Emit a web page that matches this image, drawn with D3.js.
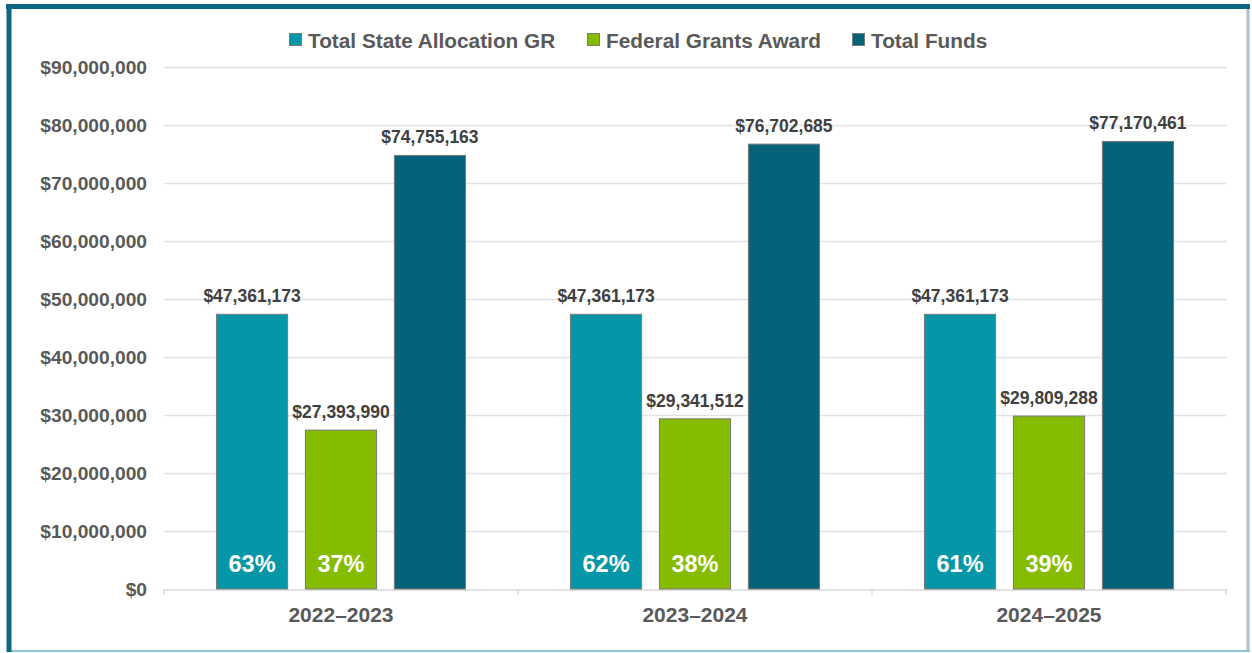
<!DOCTYPE html>
<html>
<head>
<meta charset="utf-8">
<script src="https://cdn.jsdelivr.net/npm/d3@7"></script>
<style>
  html, body { margin: 0; padding: 0; background: #ffffff; }
  svg { display: block; font-family: "Liberation Sans", Arial, sans-serif; }
</style>
</head>
<body>
<svg id="chart" width="1252" height="653"></svg>
<script>
const categories = ["2022\u20132023", "2023\u20132024", "2024\u20132025"];
const seriesNames = ["Total State Allocation GR", "Federal Grants Award", "Total Funds"];
const stateGR = [47361173, 47361173, 47361173];
const federal = [27393990, 29341512, 29809288];
const totalFunds = [74755163, 76702685, 77170461];
const statePct = ["63%", "62%", "61%"];
const federalPct = ["37%", "38%", "39%"];
const yTicks = [0, 10000000, 20000000, 30000000, 40000000, 50000000, 60000000, 70000000, 80000000, 90000000];
const colors = ["#0597a7", "#86bc00", "#04637b"];

const svg = d3.select("#chart");

// frame
svg.append("rect").attr("x", 0).attr("y", 0).attr("width", 1252).attr("height", 653).attr("fill", "#fff");
svg.append("line").attr("x1", 1248).attr("x2", 1248).attr("y1", 6).attr("y2", 652).attr("stroke", "#a9bfcc").attr("stroke-width", 3);
svg.append("line").attr("x1", 7).attr("x2", 1250).attr("y1", 651).attr("y2", 651).attr("stroke", "#8fc3d6").attr("stroke-width", 2);
svg.append("line").attr("x1", 6).attr("x2", 1250).attr("y1", 6.5).attr("y2", 6.5).attr("stroke", "#0b6680").attr("stroke-width", 5);
svg.append("line").attr("x1", 9).attr("x2", 9).attr("y1", 4).attr("y2", 652).attr("stroke", "#0b6680").attr("stroke-width", 5);

const y = d3.scaleLinear().domain([0, 90000000]).range([589, 67]);
const x0 = d3.scaleBand().domain(categories).range([164, 1226]).paddingInner(0).paddingOuter(0);
const x1 = d3.scaleBand().domain(seriesNames).range([0, x0.bandwidth()]).paddingInner(0.2).paddingOuter(0.59);

// gridlines
svg.append("g").selectAll("line").data(yTicks.filter(d => d > 0)).join("line")
  .attr("x1", 164).attr("x2", 1227)
  .attr("y1", d => Math.round(y(d)) + 0.5).attr("y2", d => Math.round(y(d)) + 0.5)
  .attr("stroke", "#e3e3e3").attr("stroke-width", 1.3);

// y tick labels
const fmt = d3.format("$,.0f");
svg.append("g").selectAll("text").data(yTicks).join("text")
  .attr("x", 147).attr("y", d => y(d) + 6.5)
  .attr("text-anchor", "end")
  .attr("font-size", 19.2).attr("font-weight", "bold").attr("fill", "#595959")
  .text(d => fmt(d));

// x axis line and ticks
const xAxis = d3.axisBottom(x0).tickSize(0).tickFormat("");
const xg = svg.append("g").attr("transform", "translate(0,589.5)").call(xAxis);
xg.select(".domain").attr("stroke", "#d9d9d9").attr("stroke-width", 1.3);
const bounds = [164, ...categories.map(c => x0(c) + x0.bandwidth())];
svg.append("g").selectAll("line").data(bounds).join("line")
  .attr("x1", d => d).attr("x2", d => d).attr("y1", 589).attr("y2", 595)
  .attr("stroke", "#d9d9d9").attr("stroke-width", 1.3);

// category labels
svg.append("g").selectAll("text").data(categories).join("text")
  .attr("x", d => x0(d) + x0.bandwidth() / 2).attr("y", 622)
  .attr("text-anchor", "middle")
  .attr("font-size", 21).attr("font-weight", "bold").attr("fill", "#595959")
  .text(d => d);

// bars
const rows = categories.map((c, i) => ({
  cat: c,
  vals: [
    { s: seriesNames[0], v: stateGR[i], pct: statePct[i], c: colors[0] },
    { s: seriesNames[1], v: federal[i], pct: federalPct[i], c: colors[1] },
    { s: seriesNames[2], v: totalFunds[i], pct: null, c: colors[2] }
  ]
}));

const groups = svg.append("g").selectAll("g").data(rows).join("g")
  .attr("transform", d => `translate(${x0(d.cat)},0)`);

groups.selectAll("rect").data(d => d.vals).join("rect")
  .attr("x", d => x1(d.s)).attr("width", x1.bandwidth())
  .attr("y", d => y(d.v)).attr("height", d => y(0) - y(d.v))
  .attr("fill", d => d.c).attr("stroke", "#7a7a7a").attr("stroke-width", 1);

groups.selectAll("text.val").data(d => d.vals).join("text")
  .attr("class", "val")
  .attr("x", d => x1(d.s) + x1.bandwidth() / 2).attr("y", d => y(d.v) - 12)
  .attr("text-anchor", "middle")
  .attr("font-size", 17.5).attr("font-weight", "bold").attr("fill", "#404040")
  .text(d => fmt(d.v));

groups.selectAll("text.pct").data(d => d.vals.filter(v => v.pct)).join("text")
  .attr("class", "pct")
  .attr("x", d => x1(d.s) + x1.bandwidth() / 2).attr("y", 572)
  .attr("text-anchor", "middle")
  .attr("font-size", 23.5).attr("font-weight", "bold").attr("fill", "#ffffff")
  .text(d => d.pct);

// legend
const legendX = [289, 587, 852];
const lg = svg.append("g").selectAll("g").data(seriesNames).join("g")
  .attr("transform", (d, i) => `translate(${legendX[i]},33)`);
lg.append("rect").attr("x", 0.5).attr("y", 0.5).attr("width", 12).attr("height", 12)
  .attr("fill", (d, i) => colors[i]).attr("stroke", "#7a7a7a").attr("stroke-width", 1);
lg.append("text").attr("x", 19).attr("y", 14.5)
  .attr("font-size", 20.8).attr("font-weight", "bold").attr("fill", "#595959")
  .text(d => d);
</script>
</body>
</html>
